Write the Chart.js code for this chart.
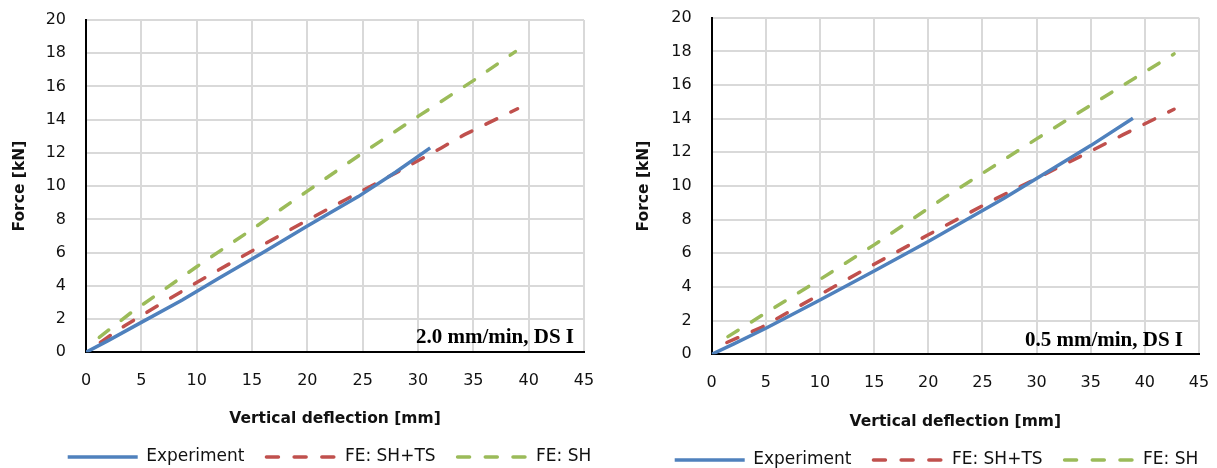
<!DOCTYPE html>
<html>
<head>
<meta charset="utf-8">
<script src="https://cdn.jsdelivr.net/npm/chart.js@4.4.1/dist/chart.umd.min.js"></script>
<style>
  html, body { margin: 0; padding: 0; background: #ffffff; }
  body { width: 1217px; height: 468px; position: relative; overflow: hidden; }
  .panel { position: absolute; top: 0; height: 468px; }
  #panelFast { left: 0; width: 600px; }
  #panelSlow { left: 620px; width: 597px; }
  canvas { display: block; }
</style>
</head>
<body>
<div class="panel" id="panelFast"><canvas id="chartFast"></canvas></div>
<div class="panel" id="panelSlow"><canvas id="chartSlow"></canvas></div>
<script>
// Series names, axis ticks and panel labels
const seriesNames = ['Experiment', 'FE: SH+TS', 'FE: SH'];
const deflectionTicks = [0, 5, 10, 15, 20, 25, 30, 35, 40, 45];
const forceTicks = [0, 2, 4, 6, 8, 10, 12, 14, 16, 18, 20];
const panelLabels = ['2.0 mm/min, DS I', '0.5 mm/min, DS I'];

// 2.0 mm/min loading rate: deflection [mm] and force [kN]
const fastExpDefl   = [0, 2, 5, 8.7, 12, 16, 20, 24.6, 28, 31.1];
const fastExpForce  = [0, 0.7, 1.8, 3.15, 4.45, 6.0, 7.6, 9.37, 10.85, 12.3];
const fastShTsDefl  = [1.3, 3.5, 6.6, 10, 15, 20, 23.4, 28, 32.1, 34.2, 39.0];
const fastShTsForce = [0.6, 1.6, 2.85, 4.2, 6.1, 7.95, 9.17, 10.8, 12.3, 13.1, 14.66];
const fastShDefl    = [1.2, 4.0, 10, 15, 20, 25, 30, 35, 38.8];
const fastShForce   = [0.9, 2.35, 5.15, 7.4, 9.7, 12.0, 14.2, 16.35, 18.1];

// 0.5 mm/min loading rate: deflection [mm] and force [kN]
const slowExpDefl   = [0, 2, 5, 10, 15, 20, 27, 30, 35, 38.9];
const slowExpForce  = [0, 0.6, 1.55, 3.23, 4.95, 6.7, 9.27, 10.45, 12.4, 14.02];
const slowShTsDefl  = [1.4, 4.6, 7.2, 10, 15, 20, 26, 30, 33.4, 38, 42.7];
const slowShTsForce = [0.7, 1.6, 2.55, 3.55, 5.35, 7.1, 9.17, 10.45, 11.55, 13.05, 14.56];
const slowShDefl    = [1.5, 4.6, 10, 15, 21.6, 25, 30, 35, 42.7];
const slowShForce   = [1.05, 2.3, 4.45, 6.5, 9.36, 10.75, 12.8, 14.8, 17.85];

const seriesColors = ['#4f81bd', '#c0504d', '#9bbb59'];
const sansFamily = '"DejaVu Sans", "Open Sans", sans-serif';
const tickFont = { family: sansFamily, size: 16 };
const titleFont = { family: sansFamily, size: 15.5, weight: 'bold' };
const legendFont = { family: sansFamily, size: 17 };
const textColor = '#111111';
const dashPattern = [12, 15.7];

function toPoints(xs, ys) {
  return xs.map((x, i) => ({ x: x, y: ys[i] }));
}

// Shifts the legend row sideways / downward after Chart.js lays the boxes out
const legendOffsetPlugin = {
  id: 'legendOffset',
  afterLayout(chart, args, opts) {
    const lg = chart.legend;
    if (!lg) return;
    const dx = opts.dx || 0, dy = opts.dy || 0;
    lg.left += dx; lg.right += dx; lg.top += dy; lg.bottom += dy;
  }
};

// Bold serif caption in the lower-right corner of the plot area
const panelLabelPlugin = {
  id: 'panelLabel',
  afterDatasetsDraw(chart, args, opts) {
    const { ctx, chartArea } = chart;
    ctx.save();
    ctx.font = 'bold 21px "Liberation Serif", "Times New Roman", serif';
    ctx.fillStyle = '#000000';
    ctx.textAlign = 'right';
    ctx.textBaseline = 'alphabetic';
    ctx.fillText(opts.text, chartArea.right - opts.inset, chartArea.bottom - opts.lift);
    ctx.restore();
  }
};

// Legend entries drawn as line samples carrying each dataset's own dash and width
function lineLegendLabels(chart) {
  return chart.data.datasets.map((ds, i) => ({
    text: ds.label,
    datasetIndex: i,
    fillStyle: ds.borderColor,
    strokeStyle: ds.borderColor,
    fontColor: textColor,
    lineWidth: ds.borderWidth,
    lineDash: ds.borderDash,
    lineCap: ds.borderCapStyle,
    pointStyle: 'line',
    hidden: false
  }));
}

function makeChart(canvasId, series, cfg) {
  const datasets = series.map((s, i) => ({
    label: seriesNames[i],
    data: toPoints(s[0], s[1]),
    borderColor: seriesColors[i],
    backgroundColor: seriesColors[i],
    borderWidth: 3.5,
    borderDash: i === 0 ? [] : dashPattern,
    borderCapStyle: i === 0 ? 'butt' : 'round',
    pointRadius: 0,
    tension: 0,
    fill: false,
    order: i
  }));

  return new Chart(document.getElementById(canvasId), {
    type: 'line',
    data: { datasets: datasets },
    plugins: [legendOffsetPlugin, panelLabelPlugin],
    options: {
      responsive: true,
      maintainAspectRatio: false,
      animation: false,
      layout: { padding: { top: cfg.top, right: cfg.right, bottom: 0, left: 0 } },
      scales: {
        x: {
          type: 'linear',
          min: deflectionTicks[0],
          max: deflectionTicks[deflectionTicks.length - 1],
          afterBuildTicks(scale) { scale.ticks = deflectionTicks.map(v => ({ value: v })); },
          afterFit(scale) {
            scale.height = cfg.xHeight;
            // end labels may overhang; the plot edges are set by the layout padding
            scale.paddingLeft = 0;
            scale.paddingRight = 0;
          },
          grid: { color: '#d9d9d9', lineWidth: 2, drawTicks: false },
          border: { display: true, color: '#000000', width: 2 },
          ticks: { font: tickFont, color: textColor, padding: 18.5, maxRotation: 0, autoSkip: false },
          title: { display: true, text: 'Vertical deflection [mm]', font: titleFont, color: textColor,
                   padding: { top: 0, bottom: cfg.xTitlePad } }
        },
        y: {
          type: 'linear',
          min: forceTicks[0],
          max: forceTicks[forceTicks.length - 1],
          afterBuildTicks(scale) { scale.ticks = forceTicks.map(v => ({ value: v })); },
          afterFit(scale) {
            scale.width = cfg.yWidth;
            scale.paddingTop = 0;
            scale.paddingBottom = 0;
          },
          grid: { color: '#d9d9d9', lineWidth: 2, drawTicks: false },
          border: { display: true, color: '#000000', width: 2 },
          ticks: { font: tickFont, color: textColor, padding: 20, autoSkip: false },
          title: { display: true, text: 'Force [kN]', font: titleFont, color: textColor,
                   padding: { top: cfg.yTitlePad, bottom: 0 } }
        }
      },
      plugins: {
        legend: {
          display: true,
          position: 'bottom',
          labels: {
            usePointStyle: true,
            pointStyle: 'line',
            pointStyleWidth: 70,
            padding: 22,
            font: legendFont,
            color: textColor,
            generateLabels: lineLegendLabels
          }
        },
        legendOffset: { dx: cfg.legendDx, dy: cfg.legendDy },
        panelLabel: { text: cfg.label, inset: cfg.labelInset, lift: cfg.labelLift },
        tooltip: { enabled: false }
      }
    }
  });
}

makeChart('chartFast', [
  [fastExpDefl, fastExpForce],
  [fastShTsDefl, fastShTsForce],
  [fastShDefl, fastShForce]
], { top: 20, right: 16, yWidth: 86, xHeight: 66.7, xTitlePad: -9.5, yTitlePad: 10.2,
     legendDx: 37.5, legendDy: 7.5, label: panelLabels[0], labelInset: 10, labelLift: 9 });

makeChart('chartSlow', [
  [slowExpDefl, slowExpForce],
  [slowShTsDefl, slowShTsForce],
  [slowShDefl, slowShForce]
], { top: 17.7, right: 18, yWidth: 91.7, xHeight: 64.7, xTitlePad: -11.8, yTitlePad: 14.7,
     legendDx: 27, legendDy: 10.5, label: panelLabels[1], labelInset: 16, labelLift: 8.6 });
</script>
</body>
</html>
